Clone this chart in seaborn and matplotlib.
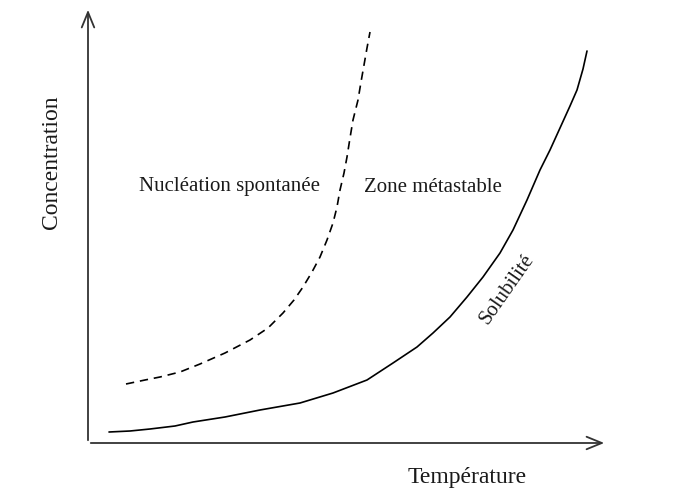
import seaborn as sns
import matplotlib.pyplot as plt

# values (arbitrary units, origin at the axes corner)
temp_solubility = [2.1, 4.2, 6.2, 8.7, 10.5, 13.7, 17.2, 21.2, 24.5, 27.9, 30.5, 32.9, 34.5,
                   36.2, 37.9, 39.5, 41.2, 42.5, 43.9, 45.2, 46.2, 47.2, 48.2, 48.9, 49.5, 49.9]
conc_solubility = [1.1, 1.2, 1.4, 1.7, 2.1, 2.6, 3.3, 4.0, 5.0, 6.3, 8.0, 9.6, 11.0,
                   12.6, 14.6, 16.6, 19.0, 21.3, 24.3, 27.3, 29.3, 31.5, 33.7, 35.3, 37.4, 39.2]

temp_nucleation = [3.8, 5.7, 7.2, 9.2, 11.2, 13.7, 16.2, 18.0, 19.5, 20.6, 21.5, 22.4, 23.2,
                   23.9, 24.5, 24.9, 25.2, 25.6, 25.9, 26.2, 26.5, 27.0, 27.3, 27.6, 27.9, 28.2]
conc_nucleation = [5.9, 6.3, 6.6, 7.1, 7.9, 9.0, 10.3, 11.5, 13.0, 14.3, 15.6, 17.1, 18.6,
                   20.3, 22.0, 23.6, 25.3, 27.0, 28.6, 30.5, 32.3, 34.3, 36.1, 37.8, 39.5, 41.1]

sns.set_style('white')
plt.rcParams['font.family'] = ['Liberation Serif', 'DejaVu Serif']

fig = plt.figure(figsize=(6.88, 4.95), dpi=100)
ax = fig.add_axes([88 / 688, 52 / 495, 519 / 688, 436 / 495])

sns.lineplot(x=temp_solubility, y=conc_solubility, sort=False, color='black', linewidth=1.2, ax=ax)
sns.lineplot(x=temp_nucleation, y=conc_nucleation, sort=False, color='black', linewidth=1.2,
             linestyle=(0, (5, 3.5)), ax=ax)

ax.set_xlim(0, 51.9)
ax.set_ylim(0, 43.6)
for s in ax.spines.values():
    s.set_visible(False)
ax.set_xticks([])
ax.set_yticks([])

# axes with open arrow heads
arrow = dict(arrowstyle='->,head_length=1.1,head_width=0.45', color='#333333', lw=1.3)
ax.annotate('', xy=(1, 0), xytext=(0, 0), xycoords='axes fraction', arrowprops=arrow)
ax.annotate('', xy=(0, 1), xytext=(0, 0), xycoords='axes fraction', arrowprops=arrow)

ax.text(14.1, 25.6, 'Nucléation spontanée', fontsize=15, ha='center', va='center', color='#1a1a1a')
ax.text(34.5, 25.6, 'Zone métastable', fontsize=15, ha='center', va='center', color='#1a1a1a')
ax.text(41.9, 15.4, 'Solubilité', fontsize=15, ha='center', va='center', rotation=55, color='#1a1a1a')

fig.text(52 / 688, 1 - 162 / 495, 'Concentration', fontsize=17, rotation=90, ha='center', va='center',
         color='#1a1a1a')
fig.text(467 / 688, 1 - 477 / 495, 'Température', fontsize=17, ha='center', va='center', color='#1a1a1a')

fig.savefig('out.png', dpi=100, facecolor='white')
